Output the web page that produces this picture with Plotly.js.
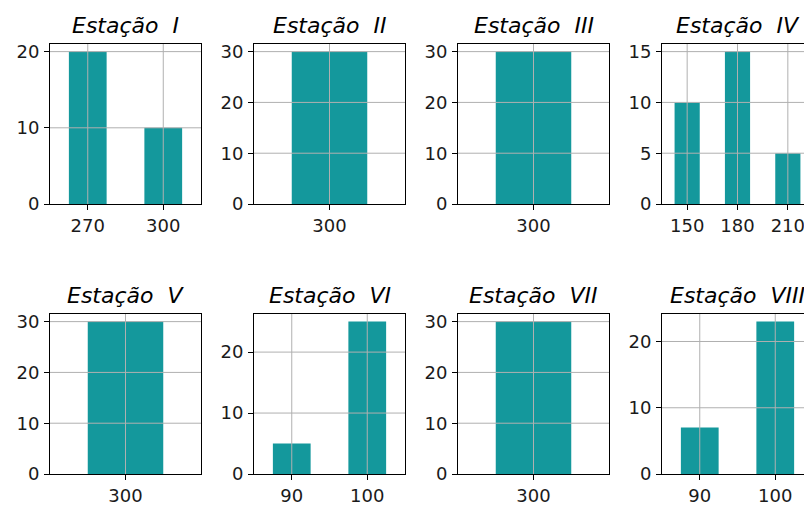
<!DOCTYPE html>
<html>
<head>
<meta charset="utf-8">
<script src="https://cdn.plot.ly/plotly-3.0.1.min.js"></script>
<style>
html, body { margin:0; padding:0; overflow:hidden; background:#fff; }
#chart { width:830px; height:507px; }
</style>
</head>
<body>
<div id="chart"></div>
<script>
// ---- data ----
const titles = ['Estação  I','Estação  II','Estação  III','Estação  IV','Estação  V','Estação  VI','Estação  VII','Estação  VIII'];
const catsI = ['270','300'];    const valsI = [20,10];
const catsII = ['300'];         const valsII = [30];
const catsIII = ['300'];        const valsIII = [30];
const catsIV = ['150','180','210']; const valsIV = [10,15,5];
const catsV = ['300'];          const valsV = [30];
const catsVI = ['90','100'];    const valsVI = [5,25];
const catsVII = ['300'];        const valsVII = [30];
const catsVIII = ['90','100'];  const valsVIII = [7,23];
const yDticks = [10,10,10,5,10,10,10,10];

const cats = [catsI,catsII,catsIII,catsIV,catsV,catsVI,catsVII,catsVIII];
const vals = [valsI,valsII,valsIII,valsIV,valsV,valsVI,valsVII,valsVIII];

// ---- layout geometry ----
const W = 830, H = 507;
const lefts = [50, 254, 458, 662];
const pw = 151;
const rowsPx = [[44, 204], [314, 474]];
const barColor = '#14989c';
const gridColor = '#b0b0b0';
const font = 'DejaVu Sans, sans-serif';
const tickSize = 18;

const data = [];
const layout = {
  width: W, height: H,
  margin: {l:0, r:0, t:0, b:0},
  paper_bgcolor: '#fff', plot_bgcolor: '#fff',
  showlegend: false,
  font: {family: font, size: tickSize, color: '#1a1a1a'},
  annotations: [], shapes: []
};

for (let i = 0; i < 8; i++) {
  const r = Math.floor(i / 4), c = i % 4;
  const n = i + 1;
  const xa = 'xaxis' + (n === 1 ? '' : n), ya = 'yaxis' + (n === 1 ? '' : n);
  const xr = 'x' + (n === 1 ? '' : n), yr = 'y' + (n === 1 ? '' : n);
  data.push({
    type: 'bar', x: cats[i], y: vals[i], xaxis: xr, yaxis: yr,
    width: 0.5, marker: {color: barColor, line: {width: 0}}, hoverinfo: 'x+y'
  });
  const ymax = Math.max(...vals[i]) * 1.05;
  layout[xa] = {
    type: 'category', domain: [lefts[c] / W, (lefts[c] + pw) / W],
    range: [-0.5, cats[i].length - 0.5], anchor: yr,
    showline: true, mirror: true, linecolor: '#000', linewidth: 1,
    ticks: 'outside', ticklen: 5, tickcolor: '#000', tickwidth: 1,
    showgrid: false, zeroline: false, fixedrange: true, automargin: false,
    tickfont: {family: font, size: tickSize, color: '#1a1a1a'}
  };
  layout[ya] = {
    domain: [1 - rowsPx[r][1] / H, 1 - rowsPx[r][0] / H],
    range: [0, ymax], anchor: xr, dtick: yDticks[i], tick0: 0,
    showline: true, mirror: true, linecolor: '#000', linewidth: 1,
    ticks: 'outside', ticklen: 5, tickcolor: '#000', tickwidth: 1,
    showgrid: false, zeroline: false, fixedrange: true, automargin: false,
    ticklabelstandoff: 1,
    tickfont: {family: font, size: tickSize, color: '#1a1a1a'}
  };
  // grid lines drawn above bars (as in the reference)
  for (let k = 0; k < cats[i].length; k++) {
    layout.shapes.push({type:'line', layer:'above', xref: xr, yref: yr + ' domain',
      x0: k, x1: k, y0: 0, y1: 1, line: {color: gridColor, width: 1}});
  }
  for (let v = yDticks[i]; v < ymax; v += yDticks[i]) {
    layout.shapes.push({type:'line', layer:'above', xref: xr + ' domain', yref: yr,
      x0: 0, x1: 1, y0: v, y1: v, line: {color: gridColor, width: 1}});
  }
  layout.annotations.push({
    text: titles[i].replace(/ /g, '\u00a0'), xref: xr + ' domain', yref: yr + ' domain',
    x: 0.5, y: 1, xanchor: 'center', yanchor: 'bottom', yshift: 4, showarrow: false,
    font: {family: font, size: 22, color: '#000', style: 'italic'}
  });
}

Plotly.newPlot('chart', data, layout, {displayModeBar: false, staticPlot: true});
</script>
</body>
</html>
